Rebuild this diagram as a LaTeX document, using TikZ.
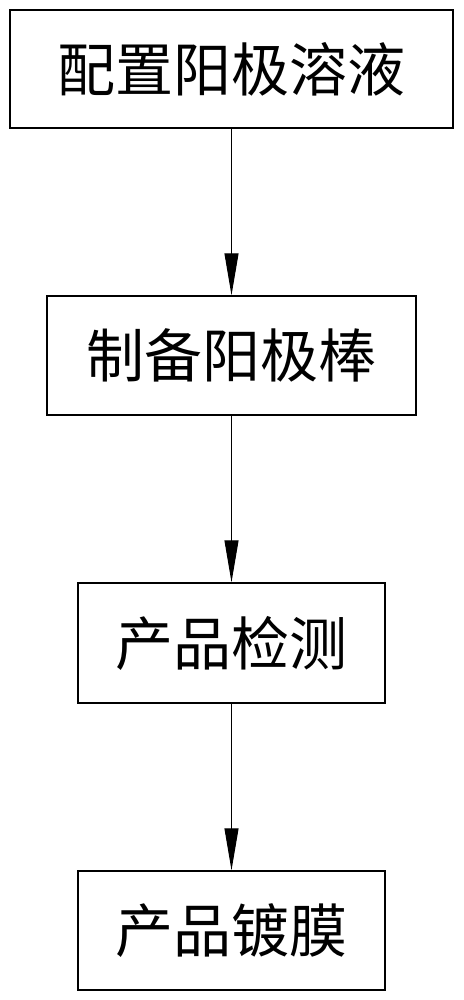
\documentclass[tikz,border=0pt]{standalone}
\usepackage{fontspec}
\newfontfamily\cjk{Noto Sans CJK SC}
\usetikzlibrary{arrows.meta}
\begin{document}
\begin{tikzpicture}[x=1pt,y=-1pt,
  stepbox/.style={draw=black,line width=1.4pt,inner sep=0pt,font=\cjk\fontsize{58}{60}\selectfont},
  flow/.style={draw=black,line width=1pt,-{Triangle[length=42pt,width=14pt]}}]
\useasboundingbox (0,0) rectangle (463,1000);
\fill[white] (0,0) rectangle (463,1000);
\node[stepbox,minimum width=443pt,minimum height=118pt] (b1) at (231.5,69) {配置阳极溶液};
\node[stepbox,minimum width=369pt,minimum height=119pt] (b2) at (231.5,355.5) {制备阳极棒};
\node[stepbox,minimum width=307pt,minimum height=120pt] (b3) at (231.5,643) {产品检测};
\node[stepbox,minimum width=307pt,minimum height=119pt] (b4) at (231.5,930.5) {产品镀膜};
\draw[flow] (b1.south) -- (b2.north);
\draw[flow] (b2.south) -- (b3.north);
\draw[flow] (b3.south) -- (b4.north);
\end{tikzpicture}
\end{document}
